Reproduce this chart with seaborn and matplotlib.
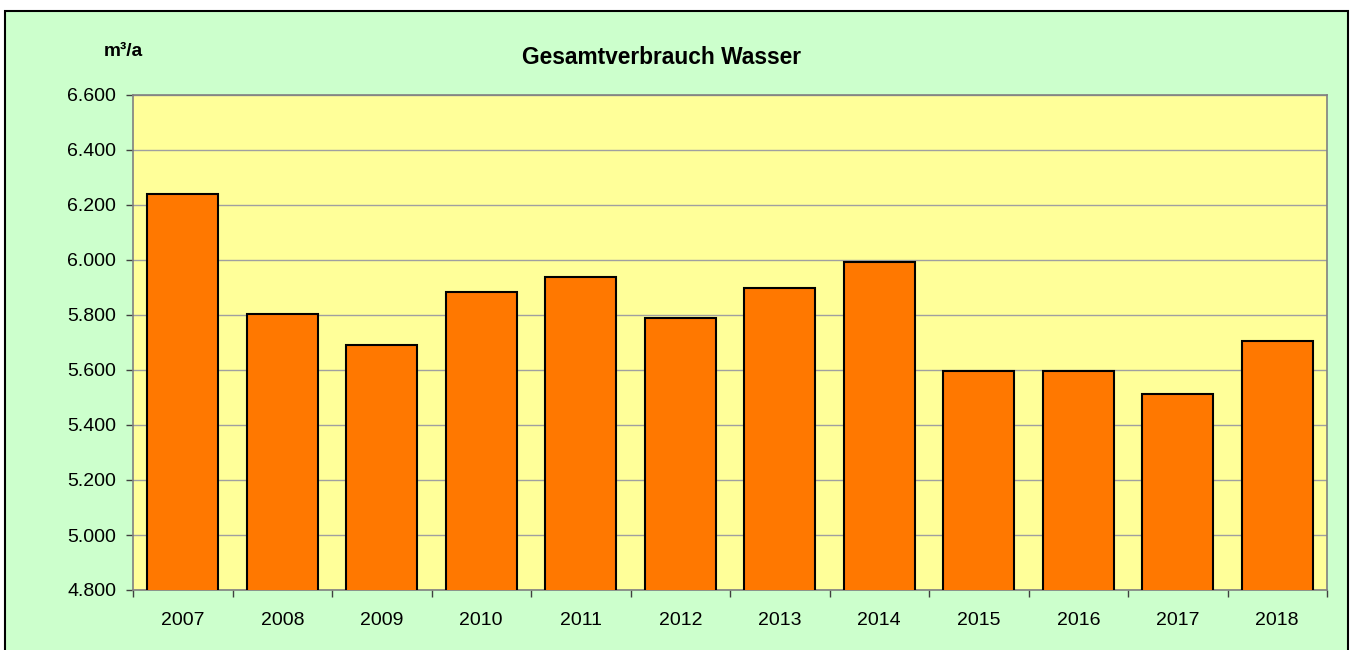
import matplotlib
matplotlib.use("Agg")
import matplotlib.pyplot as plt
import matplotlib.ticker as mticker
from matplotlib.patches import Rectangle
import pandas as pd
import seaborn as sns

years = ["2007", "2008", "2009", "2010", "2011", "2012",
         "2013", "2014", "2015", "2016", "2017", "2018"]
water_m3 = [6240, 5804, 5691, 5884, 5938, 5789,
            5898, 5993, 5596, 5596, 5513, 5705]
y_ticks = [4800, 5000, 5200, 5400, 5600, 5800, 6000, 6200, 6400, 6600]

sns.set_theme(style="white")
plt.rcParams["font.family"] = ["Liberation Sans", "DejaVu Sans"]
plt.rcParams["text.color"] = "black"
plt.rcParams["xtick.color"] = "black"
plt.rcParams["ytick.color"] = "black"

df = pd.DataFrame({"Jahr": years, "Verbrauch": water_m3})

fig = plt.figure(figsize=(13.55, 6.5), dpi=100)
fig.patch.set_facecolor("white")

# green chart area with black frame
frame = Rectangle((5 / 1355, -0.05), (1348 - 5) / 1355, 1 - 11 / 650 + 0.05,
                  transform=fig.transFigure, facecolor="#CCFFCC",
                  edgecolor="black", linewidth=1.5, zorder=-1)
fig.patches.append(frame)

ax = fig.add_axes([133 / 1355, 1 - 590 / 650, (1327 - 133) / 1355, (590 - 95) / 650])
ax.set_zorder(1)
ax.set_facecolor("#FFFF99")

sns.barplot(data=df, x="Jahr", y="Verbrauch", ax=ax, color="#FF7800",
            saturation=1, width=0.71, edgecolor="black", linewidth=1.5, zorder=3)

ax.set_ylim(4800, 6600)
ax.set_xlim(-0.5, len(years) - 0.5)
ax.set_yticks(y_ticks)
ax.yaxis.set_major_formatter(mticker.FuncFormatter(lambda v, p: f"{int(v):,}".replace(",", ".")))
ax.grid(axis="y", color="#A0A0A0", linewidth=1, zorder=1)
ax.set_axisbelow(True)

for s in ax.spines.values():
    s.set_color("#808080")
    s.set_linewidth(1.2)
    s.set_visible(True)

ax.set_xlabel("")
ax.set_ylabel("")
ax.tick_params(axis="y", direction="out", length=5, width=1, color="#404040",
               labelsize=14, pad=7, left=True, labelcolor="black")
# x ticks sit between categories, labels in the middle
ax.xaxis.set_major_locator(mticker.FixedLocator([i - 0.5 for i in range(len(years) + 1)]))
ax.xaxis.set_minor_locator(mticker.FixedLocator(list(range(len(years)))))
ax.xaxis.set_major_formatter(mticker.NullFormatter())
ax.xaxis.set_minor_formatter(mticker.FixedFormatter(years))
ax.tick_params(axis="x", which="major", direction="out", length=5, width=1,
               color="#404040", bottom=True)
ax.tick_params(axis="x", which="minor", length=0, labelsize=14, pad=16, bottom=True,
               labelcolor="black")

fig.text(662 / 1355, 1 - 57 / 650, "Gesamtverbrauch Wasser", ha="center", va="center",
         fontsize=16.4, fontweight="bold", color="black")
fig.text(123 / 1355, 1 - 52 / 650, "m³/a", ha="center", va="center",
         fontsize=13.8, fontweight="bold", color="black")

fig.savefig("out.png", dpi=100, facecolor=fig.get_facecolor())
